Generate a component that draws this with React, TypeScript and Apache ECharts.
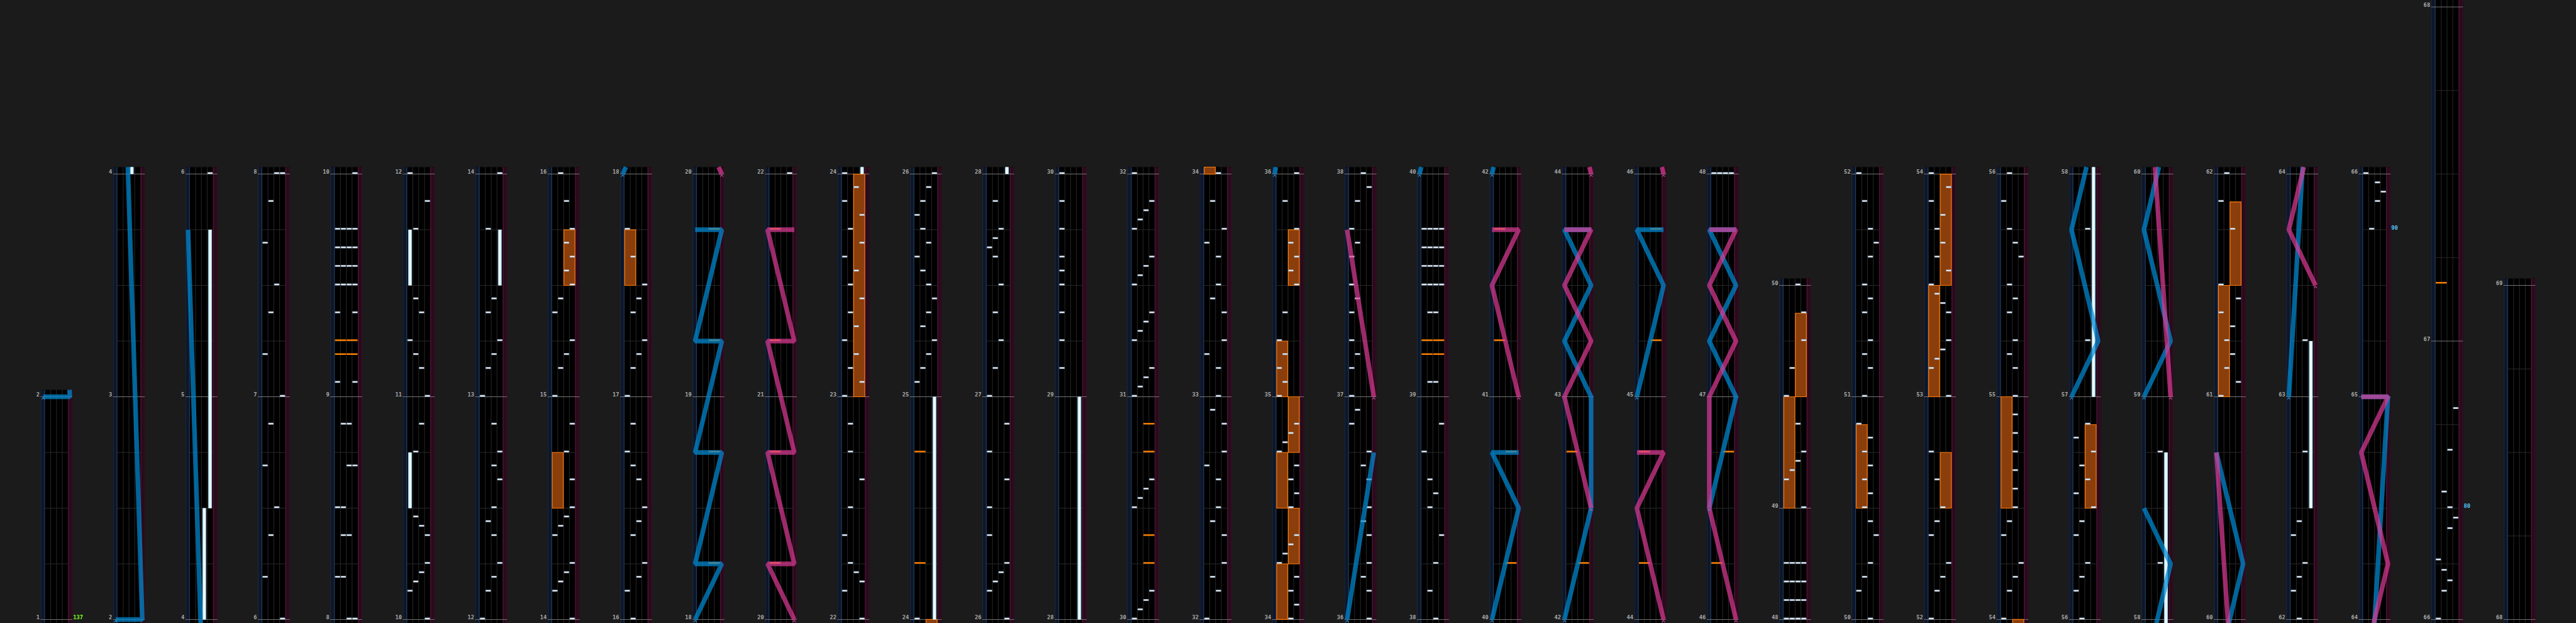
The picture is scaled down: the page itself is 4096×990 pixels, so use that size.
import React, { useEffect, useRef } from "react";
import * as echarts from "echarts";

// lane ids
const A = 0, B = 1, C = 2, D = 3;
const FL = 0, FR = 1;

// beats per measure, measures 1..68
const measureBeats = [
  4, 4, 4, 4, 4, 4, 4, 4, 4, 4,
  4, 4, 4, 4, 4, 4, 4, 4, 4, 4,
  4, 4, 4, 4, 4, 4, 4, 4, 4, 4,
  4, 4, 4, 4, 4, 4, 4, 4, 4, 4,
  4, 4, 4, 4, 4, 4, 4, 2, 4, 4,
  4, 4, 4, 4, 4, 4, 4, 4, 4, 4,
  4, 4, 4, 4, 4, 4, 4, 4,
];

// first measure shown in each column
const columnFirstMeasure = [
  1, 2, 4, 6, 8, 10, 12, 14, 16, 18, 20, 22, 24, 26, 28, 30, 32, 34,
  36, 38, 40, 42, 44, 46, 48, 50, 52, 54, 56, 58, 60, 62, 64, 66, 68,
];

// from [measure, beat] on, beats are drawn taller by the factor
const heightScaleChanges = [[66, 2, 1.5]];

// tempo marks [measure, beat, text]
const bpmMarks = [[1, 0, "137"], [65, 3, "90"], [66, 2, "80"]];
const bpmColors = ["#7dff1c", "#4fc3f7", "#4fc3f7"];

// BT chips [measure, beat, lane]
const btChips = [
  [6, 0, D], [6, 0.75, A], [6, 1.5, B], [6, 2, C], [6, 2.75, A], [6, 3.5, B],
  [7, 0, D], [7, 0.75, A], [7, 1.5, B], [7, 2, C], [7, 2.75, A], [7, 3.5, B],
  [8, 0, C], [8, 0, D], [8, 0.75, A], [8, 0.75, B], [8, 1.5, B], [8, 1.5, C], [8, 2, A], [8, 2, B], [8, 2.75, C], [8, 2.75, D], [8, 3.5, B], [8, 3.5, C],
  [9, 0.25, A], [9, 0.25, D], [9, 1.5, A], [9, 1.5, D],
  [9, 2, A], [9, 2, B], [9, 2, C], [9, 2, D], [9, 7 / 3, A], [9, 7 / 3, B], [9, 7 / 3, C], [9, 7 / 3, D],
  [9, 8 / 3, A], [9, 8 / 3, B], [9, 8 / 3, C], [9, 8 / 3, D], [9, 3, A], [9, 3, B], [9, 3, C], [9, 3, D],
  [10, 0, D], [10, 0.5, A], [10, 2 / 3, B], [10, 5 / 6, C], [10, 1, D], [10, 1.5, D], [10, 5 / 3, C], [10, 11 / 6, B], [10, 3, B], [10, 3.5, C],
  [11, 0, D], [11, 0.5, C], [11, 0.75, B], [11, 1, A], [11, 1.5, C], [11, 1.75, B], [11, 3, B], [11, 3.5, D],
  [12, 0, A], [12, 0.5, B], [12, 0.75, C], [12, 1, D], [12, 1.5, C], [12, 1.75, B], [12, 2, C], [12, 2.5, D], [12, 2.75, C], [12, 3, D], [12, 3.5, C],
  [13, 0, A], [13, 0.5, B], [13, 0.75, C], [13, 1, D], [13, 1.5, B], [13, 1.75, C], [13, 3, B],
  [14, 0, D], [14, 0.5, A], [14, 2 / 3, B], [14, 5 / 6, C], [14, 1, D], [14, 1.5, A], [14, 5 / 3, B], [14, 11 / 6, C], [14, 2, D], [14, 2.5, D], [14, 3, C], [14, 3.5, D],
  [15, 0, A], [15, 0.5, B], [15, 0.75, C], [15, 1, D], [15, 1.5, A], [15, 1.75, B], [15, 2, D], [15, 2.25, C], [15, 2.5, D], [15, 2.75, C], [15, 3, D], [15, 3.5, C],
  [16, 0, B], [16, 0.5, A], [16, 0.75, C], [16, 1, D], [16, 1.5, B], [16, 1.75, C], [16, 2, D], [16, 2.5, C], [16, 2.75, B], [16, 3, A], [16, 3.5, B],
  [17, 0, A], [17, 0.5, B], [17, 0.75, C], [17, 1, D], [17, 1.5, B], [17, 1.75, C], [17, 2, D], [17, 2.5, B], [17, 3, A],
  [22, 0, D], [22, 0.5, A], [22, 2 / 3, D], [22, 5 / 6, C], [22, 1, B], [22, 1.5, A], [22, 2, B], [22, 2.5, D], [22, 3, B], [22, 3.5, B],
  [23, 0, A], [23, 0.25, D], [23, 0.5, B], [23, 0.75, C], [23, 1, A], [23, 1.25, C], [23, 1.5, B], [23, 1.75, D],
  [23, 2, B], [23, 2.25, C], [23, 2.5, A], [23, 2.75, D], [23, 3, B], [23, 3.25, D], [23, 3.5, A], [23, 3.75, C],
  [24, 0, A],
  [25, 0.25, A], [25, 0.5, B], [25, 0.75, C], [25, 1, D], [25, 1.25, B], [25, 1.5, C], [25, 1.75, D], [25, 2, C],
  [25, 2.25, B], [25, 2.5, A], [25, 2.75, C], [25, 3, B], [25, 3.25, A], [25, 3.5, B], [25, 3.75, C],
  [26, 0, D], [26, 0.5, A], [26, 2 / 3, B], [26, 5 / 6, C], [26, 1, D], [26, 1.5, A], [26, 2, A], [26, 2.5, D], [26, 3, A], [26, 3.5, D],
  [27, 0, A], [27, 0.5, B], [27, 1, C], [27, 1.5, B], [27, 2, C], [27, 2.5, B], [27, 8 / 3, A], [27, 17 / 6, B], [27, 3, C], [27, 3.5, B],
  [29, 0.5, A], [29, 1, A], [29, 1.5, A], [29, 2, A], [29, 2.25, A], [29, 2.5, A], [29, 3, A], [29, 3.5, A],
  [30, 0, A], [30, 1 / 6, B], [30, 1 / 3, C], [30, 0.5, D], [30, 2, A], [30, 13 / 6, B], [30, 7 / 3, C], [30, 2.5, D],
  [31, 0, A], [31, 1 / 6, B], [31, 1 / 3, C], [31, 0.5, D], [31, 1, A], [31, 7 / 6, B], [31, 4 / 3, C], [31, 1.5, D],
  [31, 2, A], [31, 13 / 6, B], [31, 7 / 3, C], [31, 2.5, D], [31, 3, A], [31, 19 / 6, B], [31, 10 / 3, C], [31, 3.5, D],
  [32, 0, A], [32, 0.5, C], [32, 0.75, B], [32, 1, D], [32, 1.5, D], [32, 1.75, B], [32, 2, C], [32, 2.5, C], [32, 2.75, A], [32, 3, D], [32, 3.5, D], [32, 3.75, B],
  [33, 0, C], [33, 0.5, C], [33, 0.75, A], [33, 1, D], [33, 1.5, D], [33, 1.75, B], [33, 2, C], [33, 2.5, C], [33, 2.75, A], [33, 3, D], [33, 3.5, B],
  [34, 0, C], [34, 0.25, D], [34, 0.5, C], [34, 0.75, D], [34, 1, A], [34, 7 / 6, B], [34, 4 / 3, C], [34, 1.5, D],
  [34, 2, C], [34, 2.25, D], [34, 2.5, C], [34, 2.75, D], [34, 3, A], [34, 19 / 6, B], [34, 10 / 3, C], [34, 3.5, D],
  [35, 0, A], [35, 0.25, B], [35, 0.5, A], [35, 0.75, B], [35, 1, A], [35, 1.5, B], [35, 2, D], [35, 2.25, C], [35, 2.5, D], [35, 2.75, C], [35, 3, D], [35, 3.5, B],
  [36, 0, D], [36, 0.5, D], [36, 0.75, C], [36, 1, D], [36, 1.5, D], [36, 1.75, C], [36, 2, D], [36, 2.5, D], [36, 2.75, C], [36, 3, D], [36, 3.5, A], [36, 3.75, B],
  [37, 0, A], [37, 0.5, A], [37, 0.75, B], [37, 1, A], [37, 1.5, A], [37, 1.75, B], [37, 2, A], [37, 2.5, A], [37, 2.75, B], [37, 3, A], [37, 3.5, B], [37, 3.75, D],
  [38, 0, C], [38, 0.5, B], [38, 1, C], [38, 1.5, D], [38, 2, B], [38, 2.25, C], [38, 2.5, B], [38, 3, A], [38, 3.5, D],
  [39, 0.25, B], [39, 0.25, C], [39, 1.5, B], [39, 1.5, C],
  [39, 2, A], [39, 2, B], [39, 2, C], [39, 2, D], [39, 7 / 3, A], [39, 7 / 3, B], [39, 7 / 3, C], [39, 7 / 3, D],
  [39, 8 / 3, A], [39, 8 / 3, B], [39, 8 / 3, C], [39, 8 / 3, D], [39, 3, A], [39, 3, B], [39, 3, C], [39, 3, D],
  [48, 0, A], [48, 0, B], [48, 0, C], [48, 0, D], [48, 1 / 3, A], [48, 1 / 3, B], [48, 1 / 3, C], [48, 1 / 3, D],
  [48, 2 / 3, A], [48, 2 / 3, B], [48, 2 / 3, C], [48, 2 / 3, D], [48, 1, A], [48, 1, B], [48, 1, C], [48, 1, D],
  [49, 0, D], [49, 0.5, A], [49, 2 / 3, B], [49, 5 / 6, C], [49, 1, D], [49, 1.5, C], [49, 2, A], [49, 2.5, B], [49, 3, D], [49, 3.5, D],
  [50, 0, C], [50, 0.5, A], [50, 0.75, B], [50, 1, C], [50, 1.5, D], [50, 1.75, C], [50, 2, B], [50, 2.25, C], [50, 2.5, B], [50, 2.75, C], [50, 3, B], [50, 3.25, C], [50, 3.5, A],
  [51, 0, B], [51, 0.5, C], [51, 0.75, B], [51, 1, C], [51, 1.5, B], [51, 1.75, C], [51, 2, B], [51, 2.5, C], [51, 2.75, D], [51, 3, C], [51, 3.5, B],
  [52, 0, A], [52, 0.5, B], [52, 0.75, C], [52, 1, D], [52, 1.5, A], [52, 1.75, B], [52, 2, C], [52, 2.5, B], [52, 3, A],
  [53, 0, D], [53, 0.5, A], [53, 2 / 3, B], [53, 5 / 6, C], [53, 1, D], [53, 1.5, D], [53, 5 / 3, C], [53, 11 / 6, B],
  [53, 2, A], [53, 2.25, D], [53, 2.5, B], [53, 2.75, C], [53, 3, B], [53, 3.25, C], [53, 3.5, A], [53, 3.75, D],
  [54, 0, A], [54, 0.5, B], [54, 0.75, C], [54, 1, D], [54, 1.5, A], [54, 1.75, B], [54, 2, C], [54, 7 / 3, C], [54, 8 / 3, C], [54, 3, C], [54, 10 / 3, C], [54, 11 / 3, C],
  [55, 0, C], [55, 0.5, C], [55, 0.75, B], [55, 1, C], [55, 1.5, B], [55, 1.75, C], [55, 2, B], [55, 2.5, D], [55, 2.75, C], [55, 3, B], [55, 3.5, A],
  [56, 0, B], [56, 0.5, A], [56, 0.75, B], [56, 1, C], [56, 1.5, A], [56, 1.75, B], [56, 2, D], [56, 2.25, A], [56, 2.5, C], [56, 2.75, B], [56, 3, D], [56, 3.25, A], [56, 3.5, C],
  [57, 1, C], [57, 3, C],
  [58, 1, C], [58, 3, C],
  [61, 0, A], [61, 0.25, D], [61, 0.5, B], [61, 0.75, C], [61, 1, B], [61, 1.25, C], [61, 1.5, A], [61, 1.75, D], [61, 2, A], [61, 3, C], [61, 3.5, A],
  [62, 0, B], [62, 0.5, A], [62, 0.75, B], [62, 1, C], [62, 1.5, A], [62, 1.75, B], [62, 3, C],
  [63, 1, C],
  [65, 3, B], [65, 3.5, C], [65, 11 / 3, D], [65, 23 / 6, C],
  [66, 0, A], [66, 0.5, B], [66, 0.6875, C], [66, 0.875, B], [66, 1.0625, A], [66, 1.625, C], [66, 1.8125, D], [66, 2, C], [66, 2.1875, B], [66, 2.6875, C], [66, 3.1875, D],
];

// FX chips [measure, beat, side]
const fxChips = [
  [9, 0.75, FL], [9, 0.75, FR], [9, 1, FL], [9, 1, FR],
  [18, 1, FR], [18, 3, FR], [19, 1, FR], [19, 3, FR],
  [20, 1, FL], [20, 3, FL], [21, 1, FL], [21, 3, FL],
  [24, 1, FL], [24, 3, FL],
  [30, 1, FR], [30, 1.5, FR], [30, 3, FR], [30, 3.5, FR],
  [39, 0.75, FL], [39, 0.75, FR], [39, 1, FL], [39, 1, FR],
  [40, 1, FR], [40, 3, FR],
  [41, 1, FL], [41, 3, FL],
  [42, 1, FR], [42, 3, FL],
  [44, 1, FL], [44, 3, FL],
  [45, 1, FR], [45, 3, FR],
  [46, 1, FL], [46, 3, FR],
  [67, 0.6875, FL],
];

// BT holds [measure, beat, lane, endMeasure, endBeat]
const btLongs = [
  [4, 0, C, 4, 2], [4, 2, D, 5, 3],
  [10, 2, A, 10, 3], [11, 2, A, 11, 3], [13, 2, D, 13, 3],
  [24, 0, D, 25, 0], [28, 0, D, 29, 0],
  [57, 0, D, 58, 3], [62, 2, D, 63, 1],
];

// FX holds [measure, beat, side, endMeasure, endBeat]
const fxLongs = [
  [14, 2, FL, 14, 3], [15, 2, FR, 15, 3], [17, 2, FL, 17, 3], [23, 0, FR, 24, 0],
  [34, 0, FL, 34, 1], [34, 1, FR, 34, 2], [34, 2, FL, 34, 3], [34, 3, FR, 35, 0],
  [35, 0, FL, 35, 1], [35, 2, FR, 35, 3],
  [49, 0, FL, 49, 2], [49, 2, FR, 49, 3.5], [50, 2, FL, 50, 3.5],
  [52, 2, FR, 52, 3], [53, 0, FL, 53, 2], [53, 2, FR, 54, 0], [54, 2, FL, 55, 0],
  [56, 2, FR, 56, 3.5], [61, 0, FL, 61, 2], [61, 2, FR, 61, 3.5],
];

// knob paths, points [measure, beat, position 0..1]
const blueLasers = [
  [[2, 0, 0], [2, 0, 1], [5, 3, 0]],
  [[18, 0, 0], [18, 1, 1], [18, 1, 0], [18, 3, 1], [18, 3, 0], [19, 1, 1], [19, 1, 0], [19, 3, 1], [19, 3, 0]],
  [[36, 0, 0], [36, 3, 1]],
  [[40, 0, 0], [40, 2, 1], [40, 3, 0], [40, 3, 1]],
  [[42, 0, 0], [42, 2, 1], [43, 0, 1], [43, 1, 0], [43, 2, 1], [43, 3, 0], [43, 3, 1]],
  [[45, 0, 0], [45, 2, 1], [45, 3, 0], [45, 3, 1]],
  [[46, 2, 0], [47, 0, 1], [47, 1, 0], [47, 2, 1], [47, 3, 0], [47, 3, 1]],
  [[57, 0, 0], [57, 1, 1], [57, 3, 0], [58, 1, 1], [58, 2, 0]],
  [[59, 0, 0], [59, 1, 1], [59, 3, 0], [60, 1, 1], [60, 3, 0]],
  [[63, 0, 0], [65, 0, 1], [65, 0, 0]],
];
const pinkLasers = [
  [[20, 0, 1], [20, 1, 0], [20, 1, 1], [20, 3, 0], [20, 3, 1], [21, 1, 0], [21, 1, 1], [21, 3, 0], [21, 3, 1]],
  [[37, 0, 1], [37, 3, 0]],
  [[41, 0, 1], [41, 2, 0], [41, 3, 1], [41, 3, 0]],
  [[42, 2, 1], [43, 0, 0], [43, 1, 1], [43, 2, 0], [43, 3, 1], [43, 3, 0]],
  [[44, 0, 1], [44, 2, 0], [44, 3, 1], [44, 3, 0]],
  [[46, 0, 1], [46, 2, 0], [47, 0, 0], [47, 1, 1], [47, 2, 0], [47, 3, 1], [47, 3, 0]],
  [[59, 0, 1], [60, 3, 0]],
  [[63, 2, 1], [63, 3, 0], [64, 1, 1], [64, 3, 0], [65, 0, 1], [65, 0, 0]],
];

// ---------- layout helpers ----------
const REF_W = 4445;
const S = 4096 / REF_W; // reference px -> screen px
const UX = 125; // reference px per column slot
const UY = 96; // reference px per beat
const OV = 12 / UY; // overscan above / below a column
const COL_W = 55;

const measureStart: number[] = [];
{
  let acc = 0;
  for (let m = 1; m <= measureBeats.length + 1; m++) {
    measureStart[m] = acc;
    acc += measureBeats[m - 1] || 0;
  }
}
const T = (m: number, b: number) => measureStart[m] + b;
const Hgt = (t: number) => {
  let h = t;
  for (const [m, b, f] of heightScaleChanges) {
    const t0 = T(m, b);
    if (t > t0) h += (t - t0) * (f - 1);
  }
  return h;
};
const HM = (m: number, b: number) => Hgt(T(m, b));

const cols = columnFirstMeasure.map((first, k) => {
  const next = k + 1 < columnFirstMeasure.length ? columnFirstMeasure[k + 1] : measureBeats.length + 1;
  const cs = HM(first, 0);
  const ce = HM(next, 0);
  return { first, next, cs, ce, len: ce - cs };
});

const colsAt = (h: number) => {
  const out: number[][] = [];
  cols.forEach((c, k) => {
    if (h >= c.cs - OV - 1e-9 && h <= c.ce + OV + 1e-9) out.push([k, h - c.cs]);
  });
  return out;
};

function clipPath(pts: number[][], lo: number, hi: number) {
  const res: number[][][] = [];
  let cur: number[][] = [];
  const flush = () => {
    if (cur.length > 1) res.push(cur);
    cur = [];
  };
  for (let i = 0; i < pts.length - 1; i++) {
    const [h1, x1] = pts[i];
    const [h2, x2] = pts[i + 1];
    if (h2 < lo || h1 > hi) {
      flush();
      continue;
    }
    let sH = h1, sX = x1, eH = h2, eX = x2;
    if (h2 > h1) {
      if (h1 < lo) { sH = lo; sX = x1 + ((x2 - x1) * (lo - h1)) / (h2 - h1); }
      if (h2 > hi) { eH = hi; eX = x1 + ((x2 - x1) * (hi - h1)) / (h2 - h1); }
    }
    if (cur.length === 0) cur.push([sH, sX]);
    else {
      const last = cur[cur.length - 1];
      if (Math.abs(last[0] - sH) > 1e-9 || Math.abs(last[1] - sX) > 1e-9) {
        flush();
        cur.push([sH, sX]);
      }
    }
    cur.push([eH, eX]);
  }
  flush();
  return res;
}

function buildOption() {
  // chips
  const chipItems: number[][] = [];
  btChips.forEach(([m, b, lane]) => colsAt(HM(m, b)).forEach(([k, h]) => chipItems.push([k, h, lane, 0])));
  fxChips.forEach(([m, b, side]) => colsAt(HM(m, b)).forEach(([k, h]) => chipItems.push([k, h, side, 1])));

  // holds
  const longItems: number[][] = [];
  const addLong = (m1: number, b1: number, m2: number, b2: number, idx: number, type: number) => {
    const h1 = HM(m1, b1), h2 = HM(m2, b2);
    cols.forEach((c, k) => {
      const lo = Math.max(h1, c.cs - OV), hi = Math.min(h2, c.ce + OV);
      if (hi > lo) longItems.push([k, lo - c.cs, hi - c.cs, idx, type]);
    });
  };
  fxLongs.forEach(([m1, b1, side, m2, b2]) => addLong(m1, b1, m2, b2, side, 1));
  btLongs.forEach(([m1, b1, lane, m2, b2]) => addLong(m1, b1, m2, b2, lane, 0));

  // lasers
  const lasers = [
    ...blueLasers.map((p) => ({ side: 0, pts: p })),
    ...pinkLasers.map((p) => ({ side: 1, pts: p })),
  ];
  const laserItems: number[][] = [];
  const laserParts: number[][][][] = [];
  const chevronItems: number[][] = [];
  lasers.forEach((ls, i) => {
    const pts = ls.pts.map(([m, b, x]) => [HM(m, b), x]);
    cols.forEach((c, k) => {
      const parts = clipPath(pts, c.cs - OV, c.ce + OV);
      if (parts.length) {
        laserItems.push([k, 0, i, ls.side]);
        laserParts.push(parts.map((pp) => pp.map(([h, x]) => [h - c.cs, x])));
      }
    });
    const [m0, b0, x0] = ls.pts[0];
    colsAt(HM(m0, b0)).forEach(([k, h]) => chevronItems.push([k, h, x0, ls.side]));
  });

  // tempo labels
  const bpmItems: number[][] = [];
  bpmMarks.forEach(([m, b], i) => {
    const h = HM(m as number, b as number);
    cols.forEach((c, k) => {
      if (h >= c.cs && h < c.ce) bpmItems.push([k, h - c.cs, i]);
    });
  });

  const lw = (v: number) => v * S;
  const mkRect = (api: any, k: number, x1: number, x2: number, h1: number, h2: number, style: any) => {
    const p1 = api.coord([k + x1 / UX, h2]);
    const p2 = api.coord([k + x2 / UX, h1]);
    return { type: "rect", shape: { x: p1[0], y: p1[1], width: p2[0] - p1[0], height: p2[1] - p1[1] }, style };
  };
  const mkLine = (api: any, k: number, x1: number, h1: number, x2: number, h2: number, stroke: string, w: number) => {
    const p1 = api.coord([k + x1 / UX, h1]);
    const p2 = api.coord([k + x2 / UX, h2]);
    return { type: "line", shape: { x1: p1[0], y1: p1[1], x2: p2[0], y2: p2[1] }, style: { stroke, lineWidth: lw(w) } };
  };
  const labelFont = `bold ${(9.5 * S).toFixed(2)}px "DejaVu Sans Mono", monospace`;

  const columnSeries = {
    type: "custom",
    silent: true,
    z: 1,
    data: cols.map((c, k) => [k, 0]),
    renderItem: (params: any, api: any) => {
      const k = api.value(0);
      const c = cols[k];
      const hTop = c.len + OV, hBot = -OV;
      const ch: any[] = [];
      ch.push(mkRect(api, k, 0, COL_W, hBot, hTop, { fill: "#000000" }));
      ch.push(mkRect(api, k, 0, 7.5, hBot, hTop, { fill: "#0e1628" }));
      ch.push(mkRect(api, k, 47.5, COL_W, hBot, hTop, { fill: "#290b1b" }));
      ch.push(mkLine(api, k, 0.6, hBot, 0.6, hTop, "#1a2b43", 1.2));
      ch.push(mkLine(api, k, 6.9, hBot, 6.9, hTop, "#1f3d5c", 1.3));
      ch.push(mkLine(api, k, 48.1, hBot, 48.1, hTop, "#52173a", 1.3));
      ch.push(mkLine(api, k, 54.4, hBot, 54.4, hTop, "#3b0f28", 1.2));
      [17.5, 27.5, 37.5].forEach((x) => ch.push(mkLine(api, k, x, hBot, x, hTop, "#2c2c2c", 1)));
      for (let m = c.first; m < c.next; m++) {
        for (let b = 1; b < measureBeats[m - 1]; b++) {
          const h = HM(m, b) - c.cs;
          ch.push(mkLine(api, k, 7.5, h, 47.5, h, "#2d2d2d", 1));
        }
      }
      for (let m = c.first; m <= c.next; m++) {
        const h = HM(m, 0) - c.cs;
        ch.push(mkLine(api, k, 0, h, COL_W, h, "#7e7e7e", 1));
        const p = api.coord([k - 1.6 / UX, h + 3.6 / UY]);
        ch.push({
          type: "text",
          x: p[0],
          y: p[1],
          style: {
            text: String(m),
            fill: "#a9a9a9",
            font: labelFont,
            align: "right",
            textAlign: "right",
            verticalAlign: "middle",
            textVerticalAlign: "middle",
          },
        });
      }
      return { type: "group", children: ch };
    },
  };

  const longSeries = {
    type: "custom",
    silent: true,
    z: 2,
    data: longItems,
    renderItem: (params: any, api: any) => {
      const k = api.value(0), h1 = api.value(1), h2 = api.value(2), idx = api.value(3), type = api.value(4);
      if (type === 1) {
        const x1 = 8 + 20 * idx, x2 = 27 + 20 * idx;
        return mkRect(api, k, x1, x2, h1, h2, { fill: "#8a3e0b", stroke: "#ff7b0a", lineWidth: lw(1.3) });
      }
      const cx = 12.5 + 10 * idx;
      return {
        type: "group",
        children: [
          mkRect(api, k, cx - 3.3, cx + 3.3, h1, h2, { fill: "#9fcfe6" }),
          mkRect(api, k, cx - 1.7, cx + 1.7, h1, h2, { fill: "#f6fcff" }),
        ],
      };
    },
  };

  const chipSeries = {
    type: "custom",
    silent: true,
    z: 3,
    data: chipItems,
    renderItem: (params: any, api: any) => {
      const k = api.value(0), h = api.value(1), idx = api.value(2), type = api.value(3);
      if (type === 1) {
        return mkRect(api, k, 8 + 20 * idx, 27 + 20 * idx, h + 0.2 / UY, h + 2.9 / UY, { fill: "#ff8000" });
      }
      const cx = 12.5 + 10 * idx;
      return mkRect(api, k, cx - 4.2, cx + 4.2, h + 0.4 / UY, h + 2.8 / UY, {
        fill: "#ffffff",
        stroke: "#90abc4",
        lineWidth: lw(0.8),
      });
    },
  };

  const laserColors = ["rgba(0,138,212,0.72)", "rgba(222,58,150,0.70)"];
  const laserSeries = {
    type: "custom",
    silent: true,
    z: 4,
    data: laserItems,
    renderItem: (params: any, api: any) => {
      const k = api.value(0), side = api.value(3);
      const parts = laserParts[params.dataIndex];
      return {
        type: "group",
        children: parts.map((pp) => ({
          type: "polyline",
          shape: { points: pp.map(([h, x]) => api.coord([k + (4.5 + 46 * x) / UX, h])) },
          style: { stroke: laserColors[side], lineWidth: lw(8), lineJoin: "bevel", lineCap: "butt", fill: null },
        })),
      };
    },
  };

  const chevronColors = ["#3a9fe2", "#e057aa"];
  const chevronSeries = {
    type: "custom",
    silent: true,
    z: 5,
    data: chevronItems,
    renderItem: (params: any, api: any) => {
      const k = api.value(0), h = api.value(1), x = api.value(2), side = api.value(3);
      const cx = 4.5 + 46 * x;
      const pts = [
        api.coord([k + (cx - 2.6) / UX, h - 4.6 / UY]),
        api.coord([k + cx / UX, h - 1.6 / UY]),
        api.coord([k + (cx + 2.6) / UX, h - 4.6 / UY]),
      ];
      return { type: "polyline", shape: { points: pts }, style: { stroke: chevronColors[side], lineWidth: lw(1.1), fill: null } };
    },
  };

  const bpmSeries = {
    type: "custom",
    silent: true,
    z: 6,
    data: bpmItems,
    renderItem: (params: any, api: any) => {
      const k = api.value(0), h = api.value(1), i = api.value(2);
      const p = api.coord([k + (COL_W + 1.2) / UX, h + 3.6 / UY]);
      return {
        type: "text",
        x: p[0],
        y: p[1],
        style: {
          text: String(bpmMarks[i][2]),
          fill: bpmColors[i],
          font: labelFont,
          align: "left",
          textAlign: "left",
          verticalAlign: "middle",
          textVerticalAlign: "middle",
        },
      };
    },
  };

  return {
    backgroundColor: "#1b1b1b",
    animation: false,
    grid: { left: 0, right: 0, top: 0, bottom: 0, containLabel: false },
    xAxis: { type: "value", min: -70 / UX, max: (REF_W - 70) / UX, show: false },
    yAxis: { type: "value", min: -6 / UY, max: 1068 / UY, show: false },
    series: [columnSeries, longSeries, chipSeries, laserSeries, chevronSeries, bpmSeries],
  };
}

export default function App() {
  const ref = useRef<HTMLDivElement | null>(null);
  useEffect(() => {
    if (!ref.current) return;
    const chart = echarts.init(ref.current, undefined, { renderer: "svg" });
    chart.setOption(buildOption() as any);
    return () => chart.dispose();
  }, []);
  return (
    <div
      ref={ref}
      style={{ position: "fixed", left: 0, top: 0, width: 4096, height: 990, background: "#1b1b1b" }}
    />
  );
}
